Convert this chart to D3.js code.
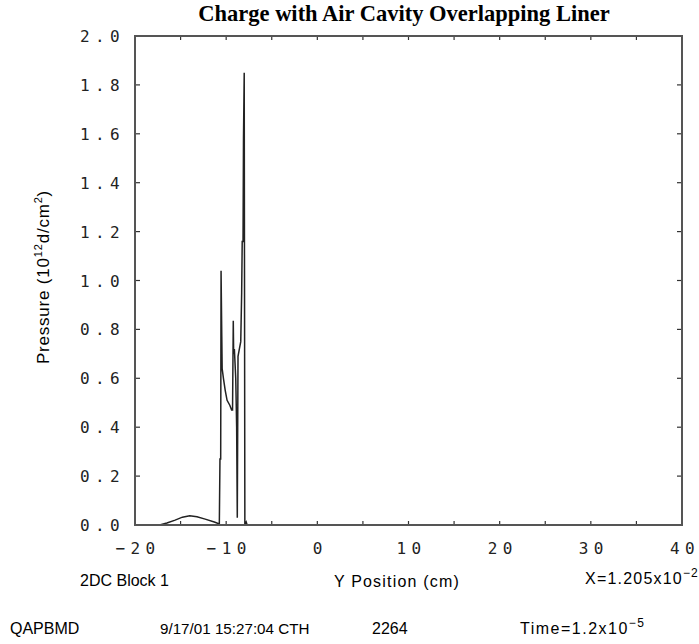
<!DOCTYPE html>
<html><head><meta charset="utf-8">
<script src="https://cdn.jsdelivr.net/npm/d3@7"></script>
<style>body{margin:0;background:#fff}svg{display:block}</style>
</head><body>
<script>
// Data: Y position (cm) vs pressure (10^12 d/cm^2)
const yPosition = [-17.3,-16.5,-15.6,-14.8,-14.0,-13.2,-12.3,-11.3,-10.75,
  -10.68,-10.60,-10.56,-10.48,-10.44,-10.3,-10.1,-9.9,-9.6,-9.40,-9.30,-9.22,-9.18,-9.10,-8.95,-8.85,-8.78,
  -8.70,-8.55,-8.40,-8.30,-8.24,-8.15,-8.10,-8.02,-7.95,-7.80,-7.70];
const pressure = [0.0,0.008,0.02,0.032,0.038,0.034,0.024,0.012,0.004,
  0.27,0.27,1.04,0.77,0.64,0.60,0.55,0.51,0.49,0.47,0.47,0.835,0.70,0.72,0.60,0.40,0.03,
  0.69,0.72,0.75,0.95,1.16,1.16,1.58,1.85,0.0,0.012,0.0];
const xTickLabels = [-20,-10,0,10,20,30,40];
const xTicks = [-20,-15,-10,-5,0,5,10,15,20,25,30,35,40];
const yTicks = [0,0.2,0.4,0.6,0.8,1.0,1.2,1.4,1.6,1.8,2.0];

const W=699,H=644;
const m={l:135,r:682,t:36,b:525};
const svg=d3.select("body").append("svg").attr("width",W).attr("height",H);
const x=d3.scaleLinear().domain([-20,40]).range([m.l,m.r]);
const y=d3.scaleLinear().domain([0,2]).range([m.b,m.t]);
const ink="#333";

// title
svg.append("text").attr("x",404).attr("y",21).attr("text-anchor","middle")
  .attr("font-family","Liberation Serif").attr("font-weight","bold").attr("font-size",22.5)
  .text("Charge with Air Cavity Overlapping Liner");

// ticks (inward) on all four sides
const g=svg.append("g").attr("stroke",ink).attr("stroke-width",1.2);
xTicks.forEach(v=>{
  g.append("line").attr("x1",x(v)).attr("x2",x(v)).attr("y1",m.t).attr("y2",m.t+4);
  g.append("line").attr("x1",x(v)).attr("x2",x(v)).attr("y1",m.b).attr("y2",m.b-4);
});
yTicks.forEach(v=>{
  g.append("line").attr("x1",m.l).attr("x2",m.l+5).attr("y1",y(v)).attr("y2",y(v));
  g.append("line").attr("x1",m.r).attr("x2",m.r-5).attr("y1",y(v)).attr("y2",y(v));
});

// data line
const line=d3.line().x((d,i)=>x(yPosition[i])).y((d,i)=>y(pressure[i]));
svg.append("path").attr("d",line(pressure)).attr("fill","none")
  .attr("stroke","#222").attr("stroke-width",1.5).attr("stroke-linejoin","miter");

// frame
svg.append("rect").attr("x",m.l).attr("y",m.t).attr("width",m.r-m.l).attr("height",m.b-m.t)
  .attr("fill","none").attr("stroke","#555").attr("stroke-width",2);

// tick labels
const tf={"font-family":"DejaVu Sans Mono","font-size":16,"letter-spacing":"5.4px","fill":"#222"};
yTicks.forEach(v=>{
  const t=svg.append("text").attr("x",125).attr("y",y(v)+6).attr("text-anchor","end").text(v.toFixed(1));
  for(const k in tf) t.attr(k,tf[k]);
});
xTickLabels.forEach(v=>{
  const t=svg.append("text").attr("x",x(v)+3).attr("y",554).attr("text-anchor","middle").text(v<0?"\u2212"+Math.abs(v):String(v));
  for(const k in tf) t.attr(k,tf[k]);
});

// y axis label
const yl=svg.append("text").attr("transform","translate(49,277) rotate(-90)").attr("text-anchor","middle")
  .attr("font-family","Liberation Sans").attr("font-size",17).attr("letter-spacing","0.8px");
yl.append("tspan").text("Pressure  (10");
yl.append("tspan").attr("dy",-7).attr("font-size",11).text("12");
yl.append("tspan").attr("dy",7).text("d/cm");
yl.append("tspan").attr("dy",-7).attr("font-size",11).text("2");
yl.append("tspan").attr("dy",7).text(")");

// bottom annotations
const tx=(xx,yy,anchor,ls,fs)=>svg.append("text").attr("x",xx).attr("y",yy).attr("text-anchor",anchor)
  .attr("font-family","Liberation Sans").attr("font-size",fs||16).attr("letter-spacing",(ls||0)+"px");
tx(80,586,"start",0).text("2DC  Block  1");
tx(397,587,"middle",1.2).text("Y  Position  (cm)");
const xl=tx(699,584,"end",1.2);
xl.append("tspan").text("X=1.205x10");
xl.append("tspan").attr("dy",-7).attr("font-size",12).text("\u22122");
tx(10,634,"start",0).text("QAPBMD");
tx(160,634,"start",0,15.2).text("9/17/01  15:27:04  CTH");
tx(372,634,"start",0).text("2264");
const tl=tx(520,634,"start",1.5);
tl.append("tspan").text("Time=1.2x10");
tl.append("tspan").attr("dy",-7).attr("font-size",12).text("\u22125");
</script>
</body></html>
